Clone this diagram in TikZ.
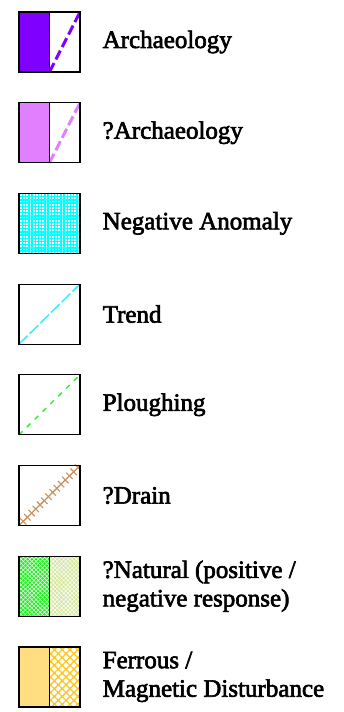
\documentclass[tikz,border=0pt]{standalone}
\usepackage{fontspec}
\usepackage{xcolor}
\setmainfont{Liberation Serif}
\newfontfamily\keyfont{Liberation Serif}[FakeBold=2.5]
\usetikzlibrary{positioning,calc,patterns.meta}

\definecolor{archpurple}{HTML}{8000FF}
\definecolor{parchpurple}{HTML}{E080FF}
\definecolor{negcyan}{HTML}{00FFFF}
\definecolor{trendcyan}{HTML}{33EEFF}
\definecolor{ploughgreen}{HTML}{33EE33}
\definecolor{drainbrown}{HTML}{C8905C}
\definecolor{natgreen}{HTML}{22EE22}
\definecolor{natpale}{HTML}{D6E8A0}
\definecolor{ferrfill}{HTML}{FFDD80}
\definecolor{ferrhatch}{HTML}{FFC61A}

\begin{document}
\begin{tikzpicture}[x=1pt,y=-1pt]
  \tikzstyle{key}=[minimum width=61pt,minimum height=60pt,inner sep=0pt,outer sep=0pt]
  \tikzstyle{frame}=[line width=1.2pt]
  \tikzstyle{keytext}=[anchor=west,inner sep=0pt,align=left,font=\keyfont\fontsize{25}{28.5}\selectfont]
  \useasboundingbox (0,0) rectangle (343,712);

  \node[key] (arch) at (49.5,42) {};
  \node[key] (parch) at (49.5,132.7) {};
  \node[key] (neg) at (49.5,223.4) {};
  \node[key] (trend) at (49.5,314.1) {};
  \node[key] (plough) at (49.5,404.8) {};
  \node[key] (drain) at (49.5,495.5) {};
  \node[key] (nat) at (49.5,586.2) {};
  \node[key] (ferr) at (49.5,676.9) {};

  % archaeology
  \fill[archpurple] (arch.north west) rectangle (arch.south);
  \draw[archpurple,line width=3pt,dash pattern=on 10pt off 4pt] (arch.south) -- (arch.north east);
  \fill[parchpurple] (parch.north west) rectangle (parch.south);
  \draw[parchpurple,line width=3pt,dash pattern=on 10pt off 4pt] (parch.south) -- (parch.north east);

  % negative anomaly
  \fill[white] (neg.north west) rectangle (neg.south east);
  \fill[pattern={Hatch[angle=0,distance=3.2pt,line width=1.4pt]},pattern color=negcyan] (neg.north west) rectangle (neg.south east);

  % trend, ploughing
  \draw[trendcyan,line width=1.5pt,dash pattern=on 12pt off 3pt] (trend.south west) -- (trend.north east);
  \draw[ploughgreen,line width=1.5pt,dash pattern=on 5pt off 6pt] (plough.south west) -- (plough.north east);

  % drain
  \draw[drainbrown,line width=1.3pt] (drain.south west) -- (drain.north east);
  \foreach \i in {1,...,14} {
    \coordinate (t) at ($(drain.south west)!{\i/14.5}!(drain.north east)$);
    \draw[drainbrown,line width=1.1pt] ($(t)!4.5pt!90:(drain.north east)$) -- ($(t)!4.5pt!-90:(drain.north east)$);
  }

  % natural
  \fill[natgreen] (nat.north west) rectangle (nat.south);
  \fill[natpale] (nat.north) rectangle (nat.south east);
  \fill[pattern={Hatch[angle=45,distance=3pt,line width=0.5pt]},pattern color=white] (nat.north west) rectangle (nat.south east);

  % ferrous
  \fill[ferrfill] (ferr.north west) rectangle (ferr.south);
  \fill[pattern={Hatch[angle=45,distance=5.5pt,line width=1.3pt]},pattern color=ferrhatch] (ferr.north) rectangle (ferr.south east);

  % frames
  \foreach \k in {arch,parch,neg,trend,plough,drain,nat,ferr}
    \draw[frame] (\k.north west) rectangle (\k.south east);
  \foreach \k in {arch,parch,nat,ferr}
    \draw[frame] (\k.north) -- (\k.south);

  \node[keytext,right=22.5pt of arch] (archtext) {Archaeology};
  \node[keytext,right=22.5pt of parch] (parchtext) {?Archaeology};
  \node[keytext,right=22.5pt of neg] (negtext) {Negative Anomaly};
  \node[keytext,right=22.5pt of trend] (trendtext) {Trend};
  \node[keytext,right=22.5pt of plough] (ploughtext) {Ploughing};
  \node[keytext,right=22.5pt of drain] (draintext) {?Drain};
  \node[keytext,right=22.5pt of nat] (nattext) {?Natural (positive /\\negative response)};
  \node[keytext,right=22.5pt of ferr] (ferrtext) {Ferrous /\\Magnetic Disturbance};
\end{tikzpicture}
\end{document}
